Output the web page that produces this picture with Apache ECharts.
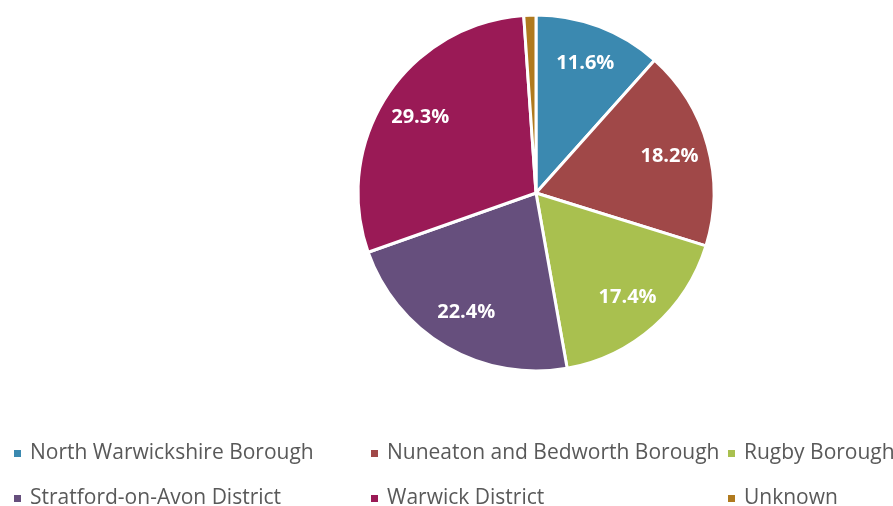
<!DOCTYPE html>
<html>
<head>
<meta charset="utf-8">
<script src="https://cdn.jsdelivr.net/npm/echarts@6/dist/echarts.min.js"></script>
<style>
  html, body { margin: 0; padding: 0; background: #fff; }
  #chart { width: 893px; height: 506px; }
</style>
</head>
<body>
<div id="chart"></div>
<script>
const districts = [
  "North Warwickshire Borough",
  "Nuneaton and Bedworth Borough",
  "Rugby Borough",
  "Stratford-on-Avon District",
  "Warwick District",
  "Unknown"
];
const shares = [11.6, 18.2, 17.4, 22.4, 29.3, 1.1];
const colours = ["#3b89b0", "#a04848", "#a9c04f", "#664f7d", "#9a1a56", "#b07a1e"];

const chart = echarts.init(document.getElementById("chart"));

const pieData = districts.map((name, i) => ({
  name: name,
  value: shares[i],
  itemStyle: { color: colours[i] }
}));
const labelData = districts.map((name, i) => ({
  name: name,
  value: shares[i],
  label: { show: name !== "Unknown" }
}));

// legend grid: 3 columns x 2 rows
const colLeft = [7, 364, 721];
const rowTop = [438, 483];
const legends = districts.map((name, i) => ({
  left: colLeft[i % 3],
  top: rowTop[Math.floor(i / 3)],
  itemWidth: 9,
  itemHeight: 9,
  itemGap: 0,
  icon: "rect",
  textStyle: { fontFamily: "Open Sans", fontSize: 21, color: "#595959", padding: [0, 0, 0, 3] },
  data: [name]
}));

chart.setOption({
  animation: false,
  legend: legends,
  series: [
    {
      type: "pie",
      center: [536, 193],
      radius: [0, 178],
      startAngle: 90,
      label: { show: false },
      labelLine: { show: false },
      itemStyle: { borderColor: "#fff", borderWidth: 3 },
      emphasis: { disabled: true },
      data: pieData
    },
    {
      type: "pie",
      center: [536, 193],
      radius: [93, 178],
      startAngle: 90,
      silent: true,
      itemStyle: { color: "transparent", borderWidth: 0 },
      label: {
        position: "inside",
        formatter: (p) => p.value.toFixed(1) + "%",
        color: "#fff",
        fontFamily: "Open Sans",
        fontWeight: "bold",
        fontSize: 20
      },
      labelLine: { show: false },
      data: labelData
    }
  ]
});
</script>
</body>
</html>
